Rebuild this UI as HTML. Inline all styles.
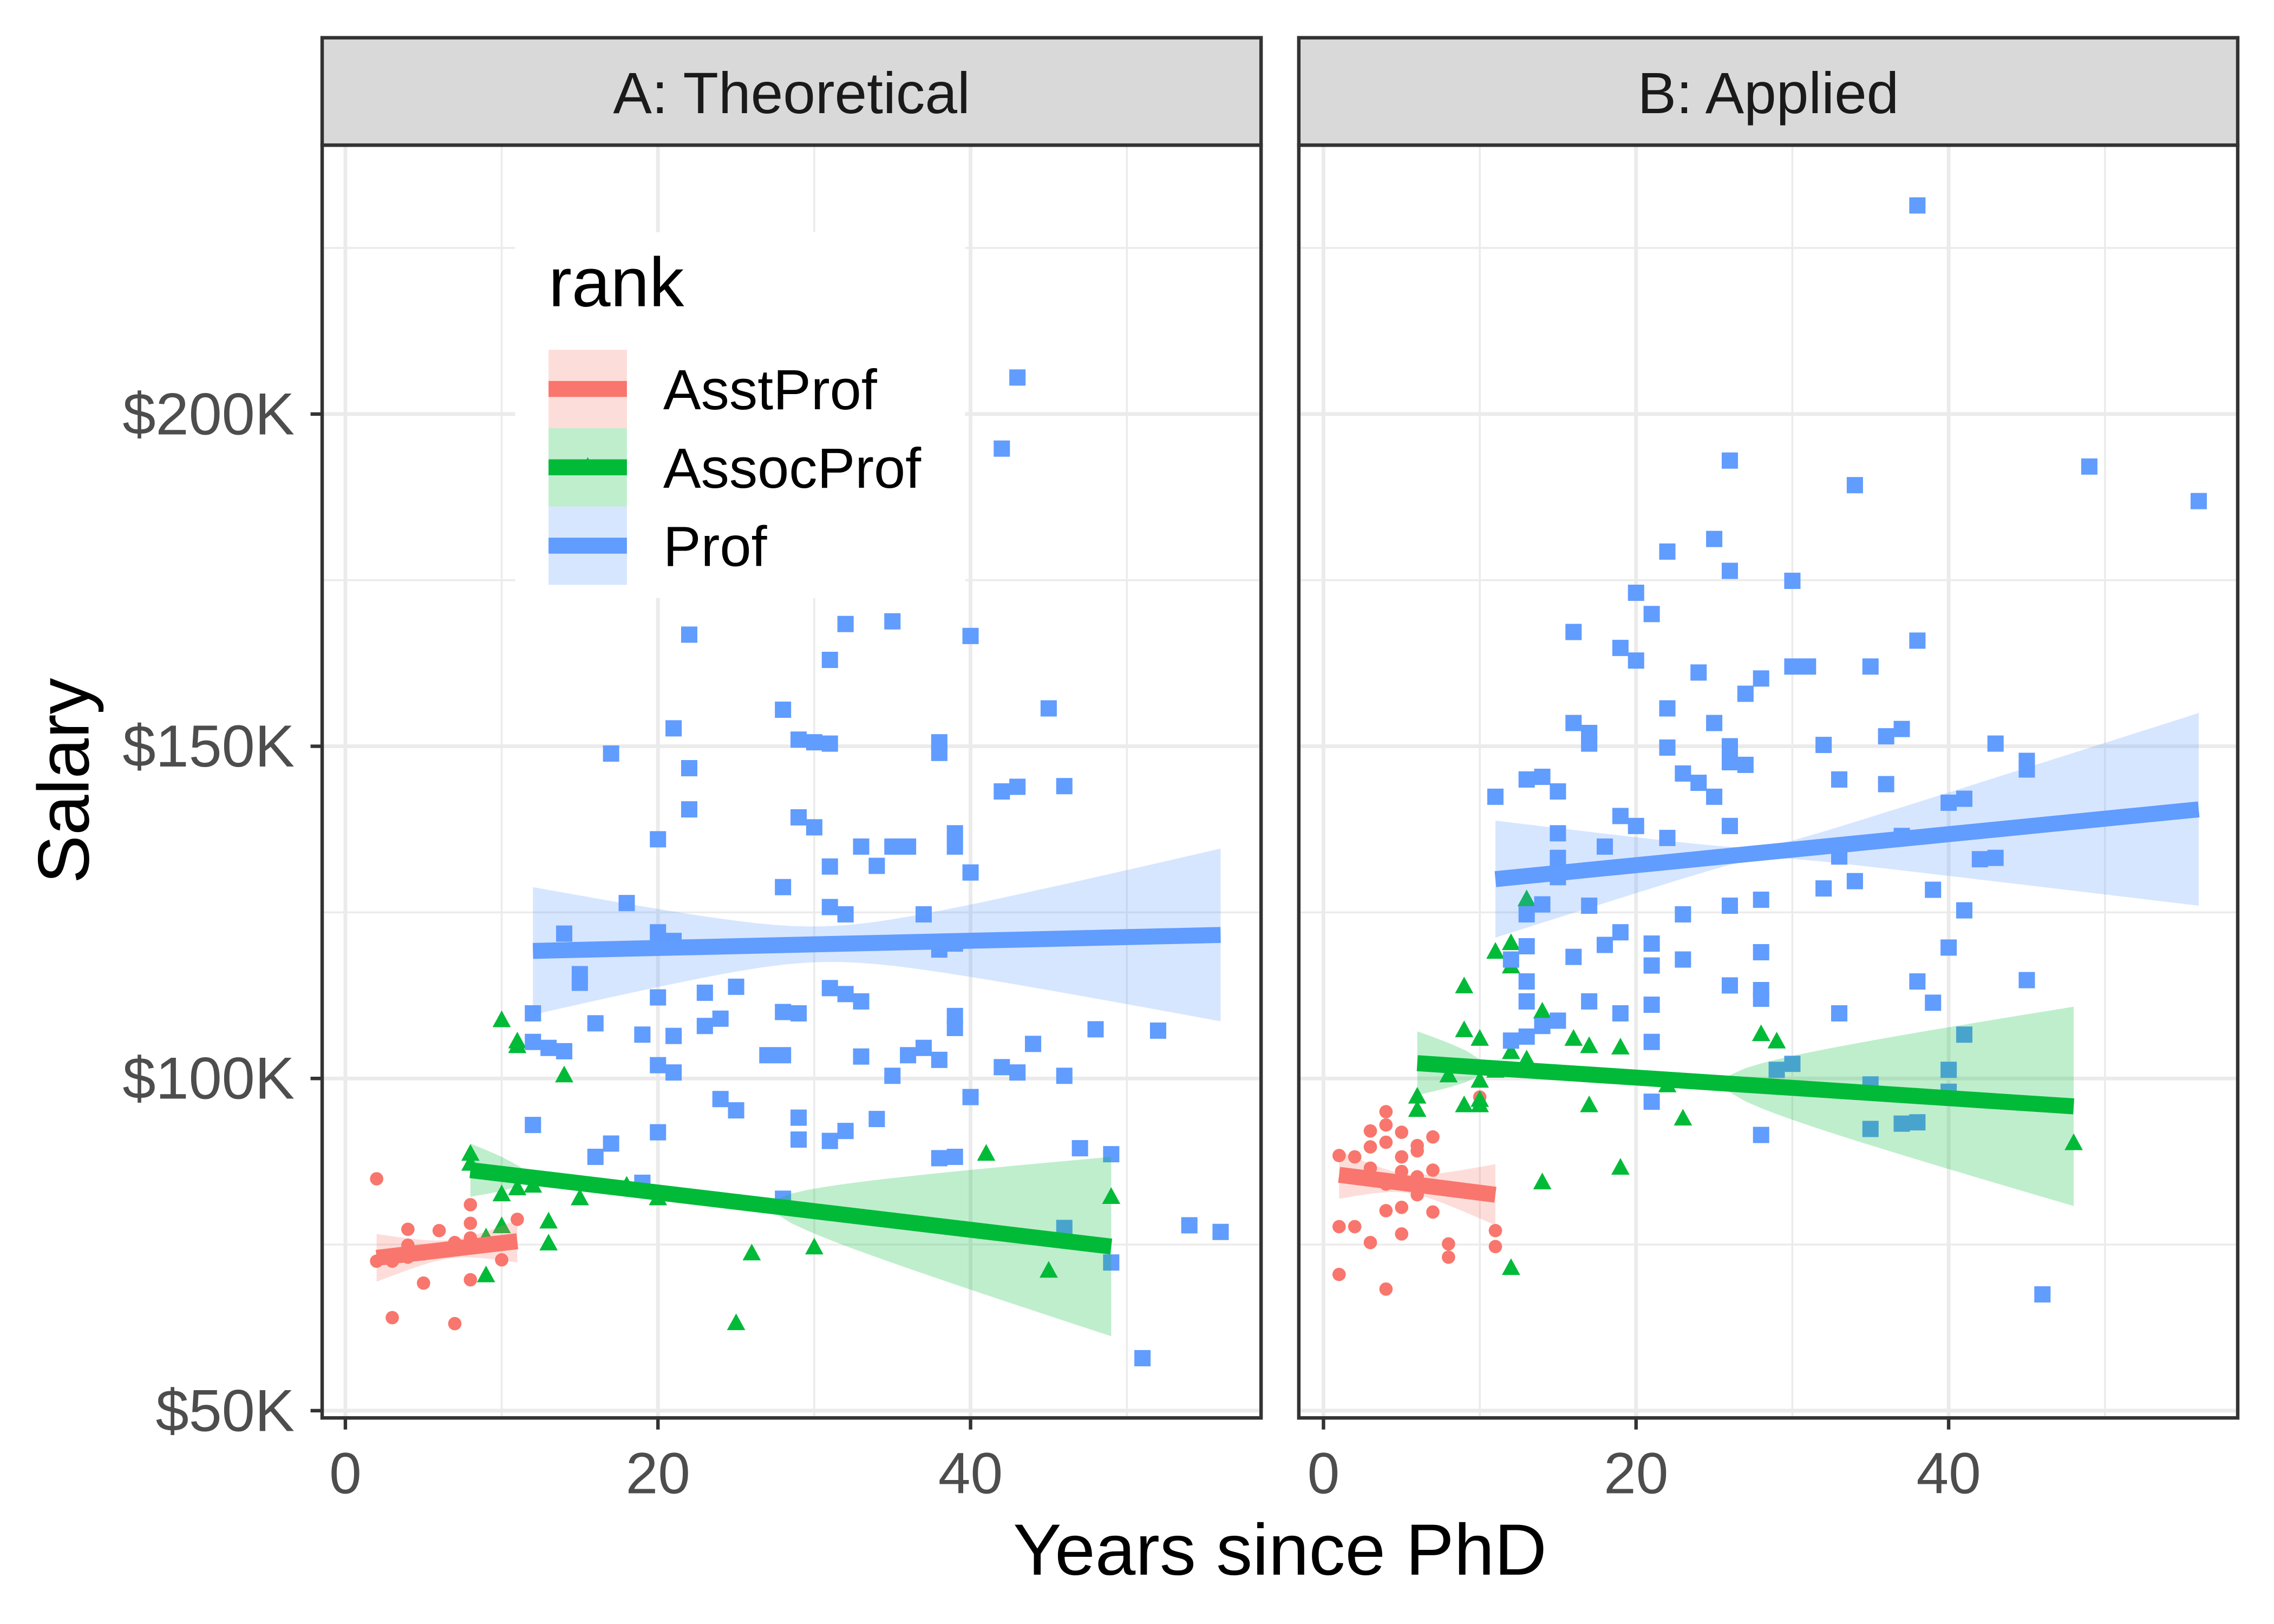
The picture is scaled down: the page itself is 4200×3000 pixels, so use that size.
<!DOCTYPE html>
<html><head><meta charset="utf-8"><style>
html,body{margin:0;padding:0;background:#fff}
svg{display:block}
text{font-family:"Liberation Sans",Arial,sans-serif}
</style></head><body>
<svg id="chart" width="4200" height="3000" viewBox="0 0 1567 1119" preserveAspectRatio="none" xmlns="http://www.w3.org/2000/svg">
<rect width="1567" height="1119" fill="#fff"/>
</svg>
<script>
// ---- data (x = years since PhD, y = salary in $K) ----
const aAsstX=[2,2,3,4,4,4,6,5,3,7,8,8,8,8,9,10,11,5,7];
const aAsstY=[84.9,72.5,72.5,77.3,74.9,73.1,77.1,69.2,64,63.1,81,76,69.7,78.2,74.9,72.7,78.8,73.6,75.3];
const aAssocX=[10,11,11,14,8,8,41,10,11,12,15,18,20,13,9,10,13,26,30,9,45,49,25,19];
const aAssocY=[108.7,104.8,105.5,100.4,88.6,87.1,88.6,82.5,83.4,83.8,81.9,83.8,81.9,78.4,76,77.7,75.1,73.6,74.5,70.3,71,82.1,63.1,84];
const aProfX=[43,42,35,32,22,40,31,45,28,21,29,30,31,38,38,17,22,46,43,42,22,29,30,39,20,39,33,35,36,31,40,34,28,18,31,37,32,14,20,21,39,38,15,15,12,25,31,32,33,23,20,28,29,16,24,39,39,48,52,12,19,21,23,13,14,44,27,28,33,37,36,38,20,21,42,43,46,35,25,24,40,12,29,34,20,31,32,29,17,47,49,16,39,38,19,28,46,54,56,49,51];
const aProfY=[205.5,194.8,168.8,168.4,166.8,166.6,163,155.7,155.5,152.7,151,150.6,150.4,150.6,149,148.9,146.7,144,143.9,143.2,140.5,139.3,137.8,136.9,136,134.9,134.9,134.9,134.9,131.9,131,132,128.8,126.4,125.8,124.7,124.7,121.8,122,120.7,120.3,119.4,115.7,114.4,109.8,113.8,113.6,112.7,111.6,112.9,112.2,110,109.8,108.3,109,109.4,107.6,107.4,107.2,105.5,106.6,106.4,107.9,104.6,104.1,105.2,103.5,103.5,103.3,104.6,103.5,102.8,102,100.9,101.7,100.9,100.4,100.4,95.2,96.9,97.2,93,94.1,93.9,91.9,90.6,92.1,90.8,90.2,89.5,88.6,88.2,88.2,88,84.3,81.9,77.5,77.9,76.9,72.3,57.9];
const bAsstX=[1,2,3,3,4,4,4,5,6,7,5,5,3,4,6,7,8,6,4,5,7,1,2,3,5,8,8,10,11,11,1,4,5,6];
const bAsstY=[88.4,88.2,89.7,92.1,95,93,90.4,91.9,89.9,91.2,86,84.5,86.5,84.1,85.2,86.2,83.2,82.5,80.1,80.6,79.9,77.7,77.7,75.3,76.6,75.1,73.1,97.2,77.1,74.7,70.5,68.3,88.2,89.1];
const bAssocX=[13,11,12,12,9,14,9,10,12,13,11,8,10,19,17,16,28,29,22,6,6,9,10,10,17,23,19,48,14,12,13];
const bAssocY=[126.9,119,120.3,116.8,113.8,110,107.2,105.9,103.9,102.8,101.1,100.4,99.6,104.6,104.8,105.9,106.6,105.5,98.9,97.2,95.2,95.9,95.9,96.7,95.9,93.9,86.5,90.2,84.3,71.4,101.3];
const bProfX=[38,49,26,56,34,22,25,26,30,20,21,16,38,19,20,24,27,28,30,31,35,22,25,16,17,37,36,26,32,43,17,22,26,45,45,14,11,13,27,23,24,25,15,33,36,40,41,19,20,15,37,26,22,43,42,15,18,33,15,32,34,39,28,26,13,14,17,23,41,19,21,18,13,40,28,23,16,12,21,13,38,45,26,28,28,21,39,17,33,19,14,15,41,13,21,30,29,40,40,35,21,37,38,35,28,46,12,13];
const bProfY=[231.4,192.1,193,186.9,189.3,179.3,181.2,176.4,174.9,173.1,169.9,167.2,165.9,164.8,162.9,161.1,157.9,160.2,162,162,162,155.7,153.5,153.5,152,152.6,151.5,150,150.2,150.4,150.4,149.8,147.6,147.8,146.5,145.4,142.4,145,147.2,145.9,144.5,142.4,143.2,145,144.3,141.5,142.1,139.5,138,136.9,136.5,138,136.2,133.2,133,133.2,134.9,133.4,130.3,128.6,129.7,128.4,126.9,126,124.7,126.2,126,124.7,125.3,122,120.3,120.1,119.9,119.7,119,117.9,118.3,117.9,117,114.6,114.6,114.8,114,113.3,112,111.1,111.4,111.6,109.8,109.8,107.9,108.7,106.6,106.3,105.5,102.2,101.3,101.3,98,99.1,96.5,93.2,93.4,92.4,91.5,67.5,105.7,111.6];
// fitted lines: x range, fit y at start/end, ribbon half-widths at start/mid/end
const aFitX=[[2,11],[8,49],[12,56]];
const aFitY=[[73,75.5],[86.2,74.7],[119.2,121.6]];
const aFitHW=[[3.6,1.4,3.2],[4,2.2,13.5],[9.6,3.2,13]];
const bFitX=[[1,11],[6,48],[11,56]];
const bFitY=[[85.5,82.5],[102.3,95.8],[130,140.5]];
const bFitHW=[[3.6,1.5,4.6],[4.8,2.5,15],[8.8,3,14.5]];
const xTicks=[0,20,40];
const yTicks=[50,100,150,200];
const yTickLabels=["$50K","$100K","$150K","$200K"];
const rankNames=["AsstProf","AssocProf","Prof"];
const colors=["#F8766D","#00BA38","#619CFF"];

const NS="http://www.w3.org/2000/svg";
const svg=document.getElementById('chart');
function mk(tag,attrs,parent){const e=document.createElementNS(NS,tag);for(const k in attrs)e.setAttribute(k,attrs[k]);(parent||svg).appendChild(e);return e;}
const yS=v=>972-(v-50)*4.578;
const panels=[{x0:222,x1:869,zero:238,title:"A: Theoretical",key:"a",
  pts:[[aAsstX,aAsstY],[aAssocX,aAssocY],[aProfX,aProfY]],fx:aFitX,fy:aFitY,fh:aFitHW},
 {x0:895,x1:1542,zero:912,title:"B: Applied",key:"b",
  pts:[[bAsstX,bAsstY],[bAssocX,bAssocY],[bProfX,bProfY]],fx:bFitX,fy:bFitY,fh:bFitHW}];
const pTop=100,pBot=977;
panels.forEach((p)=>{
  const xS=v=>p.zero+v*10.77;
  const g=mk('g',{});
  
  
  [10,30,50].forEach(v=>{const l=mk('line',{x1:xS(v),x2:xS(v),y1:pTop,y2:pBot,stroke:'#ebebeb','stroke-width':1.3},g);});
  [75,125,175,225].forEach(v=>{const l=mk('line',{x1:p.x0,x2:p.x1,y1:yS(v),y2:yS(v),stroke:'#ebebeb','stroke-width':1.3},g);});
  xTicks.forEach(v=>{const l=mk('line',{x1:xS(v),x2:xS(v),y1:pTop,y2:pBot,stroke:'#ebebeb','stroke-width':2.6},g);});
  yTicks.forEach(v=>{const l=mk('line',{x1:p.x0,x2:p.x1,y1:yS(v),y2:yS(v),stroke:'#ebebeb','stroke-width':2.6},g);});
  p.pts.forEach((s,ri)=>{
    s[0].forEach((xv,i)=>{
      const cx=xS(xv),cy=yS(s[1][i]);let e;
      if(ri===0)e=mk('circle',{cx:cx,cy:cy,r:4.6,fill:colors[0]},g);
      else if(ri===1)e=mk('polygon',{points:`${cx},${cy-7} ${cx+6.3},${cy+4.5} ${cx-6.3},${cy+4.5}`,fill:colors[1]},g);
      else e=mk('rect',{x:cx-5.6,y:cy-5.6,width:11.2,height:11.2,fill:colors[2]},g);
      
      
    });
  });
  p.fx.forEach((xr,ri)=>{
    const [xa,xb]=xr,xm=(xa+xb)/2,h=p.fh[ri];
    const h2=t=>{const a=h[0]*h[0],m=h[1]*h[1],b=h[2]*h[2];
      const L0=(t-xm)*(t-xb)/((xa-xm)*(xa-xb)),L1=(t-xa)*(t-xb)/((xm-xa)*(xm-xb)),L2=(t-xa)*(t-xm)/((xb-xa)*(xb-xm));
      return Math.sqrt(Math.max(0,a*L0+m*L1+b*L2));};
    const fit=t=>p.fy[ri][0]+(p.fy[ri][1]-p.fy[ri][0])*(t-xa)/(xb-xa);
    const up=[],lo=[];
    for(let k=0;k<=40;k++){const t=xa+(xb-xa)*k/40;up.push(xS(t)+','+yS(fit(t)+h2(t)));lo.unshift(xS(t)+','+yS(fit(t)-h2(t)));}
    const rb=mk('polygon',{points:up.concat(lo).join(' '),fill:colors[ri],'fill-opacity':0.25},g);
    
    
    const ln=mk('line',{x1:xS(xa),y1:yS(fit(xa)),x2:xS(xb),y2:yS(fit(xb)),stroke:colors[ri],'stroke-width':11},g);
    
    
  });
  const br=mk('rect',{x:p.x0,y:pTop,width:p.x1-p.x0,height:pBot-pTop,fill:'none',stroke:'#333','stroke-width':2.4},g);
  
  
  const st=mk('rect',{x:p.x0,y:26,width:p.x1-p.x0,height:74,fill:'#d9d9d9',stroke:'#333','stroke-width':2.4},g);
  
  
  const stt=mk('text',{x:(p.x0+p.x1)/2,y:78,'text-anchor':'middle','font-size':40,fill:'#1a1a1a'},g);
  stt.textContent=p.title;
  
  
  xTicks.forEach(v=>{
    const t=mk('line',{x1:xS(v),x2:xS(v),y1:pBot,y2:pBot+8,stroke:'#333','stroke-width':2.4},g);
    
    
    const tl=mk('text',{x:xS(v),y:1029,'text-anchor':'middle','font-size':40,fill:'#4d4d4d'},g);
    tl.textContent=v;
    
    
  });
});
yTicks.forEach((v,i)=>{
  const t=mk('line',{x1:214,x2:222,y1:yS(v),y2:yS(v),stroke:'#333','stroke-width':2.4});
  
  
  const tl=mk('text',{x:203,y:yS(v)+14,'text-anchor':'end','font-size':41,fill:'#4d4d4d'});
  tl.textContent=yTickLabels[i];
  
  
});
const xt=mk('text',{x:882,y:1085,'text-anchor':'middle','font-size':50,fill:'#000'});
xt.textContent='Years since PhD';


const yt=mk('text',{x:0,y:0,'text-anchor':'middle','font-size':50,fill:'#000',transform:'translate(61,538) rotate(-90)'});
yt.textContent='Salary';


const lg=mk('g',{});


mk('rect',{x:355,y:160,width:310,height:252,fill:'#fff'},lg);
const lt=mk('text',{x:378,y:211,'font-size':48,fill:'#000'},lg);
lt.textContent='rank';


rankNames.forEach((n,i)=>{
  const cy=268+i*54;
  const e=mk('g',{},lg);
  
  
  mk('rect',{x:378,y:cy-27,width:54,height:54,fill:colors[i],'fill-opacity':0.25},e);
  mk('line',{x1:378,x2:432,y1:cy,y2:cy,stroke:colors[i],'stroke-width':11},e);
  if(i===1)mk('polygon',{points:`405,${cy-7} 411.3,${cy+4.5} 398.7,${cy+4.5}`,fill:colors[1]},e);
  const t=mk('text',{x:457,y:cy+14,'font-size':39,fill:'#000'},e);
  t.textContent=n;
});
</script>
</body></html>
